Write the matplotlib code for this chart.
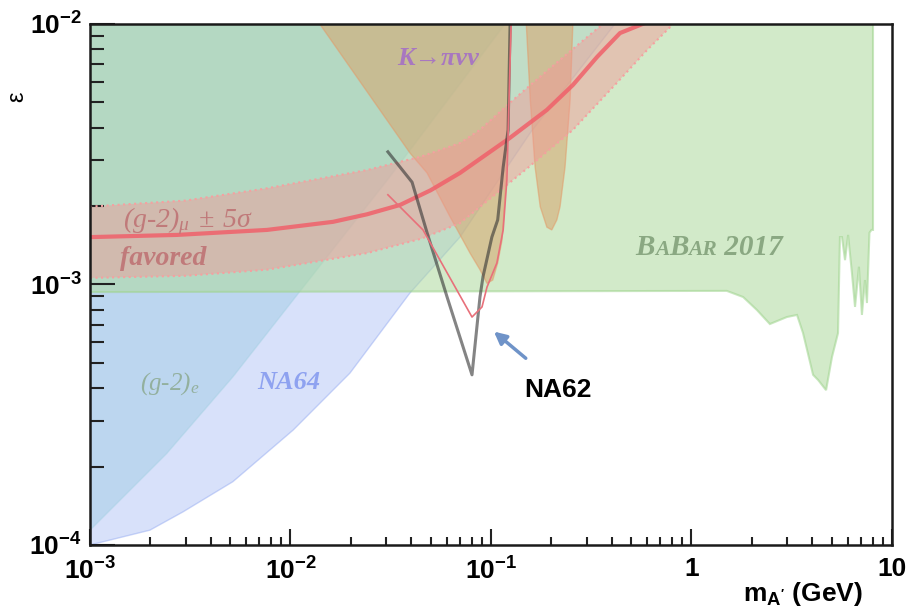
import matplotlib.pyplot as plt
import numpy as np

# ---- exclusion regions (m in GeV, eps) ----
babar_m = [1e-3, 1.50, 1.81, 2.12, 2.46, 2.99, 3.36, 3.60, 4.04, 4.28, 4.69, 5.02, 5.38,
           5.50, 5.63, 5.83, 6.04, 6.31, 6.54, 6.84, 7.08, 7.33, 7.50, 7.72, 7.90, 8.04, 8.04, 1e-3]
babar_eps = [9.35e-4, 9.45e-4, 8.95e-4, 7.98e-4, 7.05e-4, 7.50e-4, 7.64e-4, 6.51e-4, 4.50e-4,
             4.30e-4, 3.93e-4, 5.27e-4, 6.51e-4, 1.52e-3, 1.52e-3, 1.24e-3, 1.55e-3, 1.11e-3,
             8.20e-4, 1.17e-3, 7.64e-4, 1.04e-3, 8.49e-4, 1.58e-3, 1.62e-3, 1.62e-3, 1e-2, 1e-2]

na64_m = [1e-3, 1.99e-3, 2.91e-3, 5.16e-3, 1.03e-2, 1.98e-2, 3.94e-2, 7.0e-2, 0.157, 0.415, 1e-3]
na64_eps = [1.0e-4, 1.14e-4, 1.34e-4, 1.75e-4, 2.76e-4, 4.57e-4, 9.27e-4, 1.52e-3, 3.82e-3, 1e-2, 1e-2]

g2e_m = [1e-3, 2.42e-3, 5.16e-3, 1.03e-2, 3.13e-2, 0.1175, 1e-3]
g2e_eps = [1.14e-4, 2.25e-4, 4.42e-4, 8.71e-4, 2.59e-3, 1e-2, 1e-2]

kpinn_m = [1.40e-2, 3.94e-2, 4.80e-2, 6.25e-2, 7.86e-2, 8.81e-2, 9.55e-2, 0.102, 0.108,
           0.1135, 0.1175, 0.120, 0.126]
kpinn_eps = [1e-2, 3.20e-3, 2.68e-3, 1.82e-3, 1.32e-3, 1.14e-3, 1.01e-3, 1.04e-3, 1.21e-3,
             1.48e-3, 2.17e-3, 3.37e-3, 1e-2]

kpinn2_m = [0.150, 0.157, 0.166, 0.176, 0.190, 0.201, 0.213, 0.221, 0.234, 0.248, 0.256]
kpinn2_eps = [1e-2, 5.11e-3, 2.82e-3, 1.99e-3, 1.66e-3, 1.62e-3, 1.77e-3, 1.99e-3, 2.82e-3,
              5.11e-3, 1e-2]

# (g-2)_mu favoured band
gm2_m = [1e-3, 2.72e-3, 7.64e-3, 1.63e-2, 2.41e-2, 3.52e-2, 5.0e-2, 7.0e-2, 0.124, 0.190,
         0.256, 0.338, 0.440, 0.57]
gm2_eps = [1.52e-3, 1.55e-3, 1.62e-3, 1.74e-3, 1.86e-3, 2.02e-3, 2.30e-3, 2.68e-3, 3.65e-3,
           4.68e-3, 5.83e-3, 7.47e-3, 9.23e-3, 1.0e-2]
gm2_up_m = [1e-3, 3.0e-3, 7.64e-3, 2.41e-2, 4.5e-2, 7.0e-2, 8.8e-2, 0.129, 0.19, 0.278, 0.362]
gm2_up_eps = [1.99e-3, 2.10e-3, 2.34e-3, 2.75e-3, 3.10e-3, 3.49e-3, 3.92e-3, 5.11e-3,
              6.60e-3, 8.45e-3, 1e-2]
gm2_lo_m = [1e-3, 3.0e-3, 7.64e-3, 2.41e-2, 4.5e-2, 7.0e-2, 0.148, 0.256, 0.406, 0.600, 0.782, 0.81]
gm2_lo_eps = [1.06e-3, 1.08e-3, 1.14e-3, 1.32e-3, 1.50e-3, 1.72e-3, 2.75e-3, 3.92e-3, 5.73e-3,
              7.94e-3, 9.73e-3, 1e-2]

# NA62 projections
na62_m = [3.06e-2, 4.04e-2, 4.18e-2, 4.80e-2, 6.04e-2, 8.04e-2, 8.81e-2, 9.12e-2, 0.101,
          0.108, 0.115, 0.1217, 0.1245]
na62_eps = [3.23e-3, 2.47e-3, 2.26e-3, 1.58e-3, 8.95e-4, 4.50e-4, 8.95e-4, 1.07e-3, 1.52e-3,
            1.77e-3, 2.82e-3, 3.92e-3, 1e-2]
na62b_m = [3.06e-2, 4.58e-2, 8.04e-2, 9.02e-2, 9.55e-2, 0.107, 0.115, 0.120, 0.123, 0.126]
na62b_eps = [2.21e-3, 1.62e-3, 7.50e-4, 8.20e-4, 9.77e-4, 1.21e-3, 1.62e-3, 2.52e-3, 5.11e-3, 1e-2]

xticks = [1e-3, 1e-2, 1e-1, 1, 10]
xtick_labels = [r'$\mathdefault{10^{-3}}$', r'$\mathdefault{10^{-2}}$',
                r'$\mathdefault{10^{-1}}$', '1', '10']
yticks = [1e-4, 1e-3, 1e-2]
ytick_labels = [r'$\mathdefault{10^{-4}}$', r'$\mathdefault{10^{-3}}$', r'$\mathdefault{10^{-2}}$']

plt.rcParams['font.family'] = ['Liberation Sans', 'DejaVu Sans']

fig = plt.figure(figsize=(9.09, 6.12), dpi=100)
ax = fig.add_axes([0.099, 0.1095, 0.8823, 0.8513])
ax.set_xscale('log')
ax.set_yscale('log')

ax.fill(na64_m, na64_eps, facecolor='#aabef5', alpha=0.46, edgecolor='#8fa6f0', lw=1)
ax.fill(g2e_m, g2e_eps, facecolor='#96c8e1', alpha=0.42, edgecolor='#a0d0e0', lw=1)
ax.fill(babar_m, babar_eps, facecolor='#afdaa0', alpha=0.56, edgecolor='#9fd48e', lw=1.5)
ax.fill(kpinn_m, kpinn_eps, facecolor='#d7a56e', alpha=0.55, edgecolor='#e39a68', lw=1)
ax.fill(kpinn2_m, kpinn2_eps, facecolor='#d7a56e', alpha=0.55, edgecolor='#e39a68', lw=1)

# pink band between the upper and lower edges
ax.fill(gm2_up_m + [gm2_lo_m[-1]] + gm2_lo_m[::-1], gm2_up_eps + [1e-2] + gm2_lo_eps[::-1],
        facecolor='#f59696', alpha=0.45, edgecolor='none')
ax.plot(gm2_up_m, gm2_up_eps, color='#f5a0a0', lw=1.5, ls=':')
ax.plot(gm2_lo_m, gm2_lo_eps, color='#f5a0a0', lw=1.5, ls=':')
ax.plot(gm2_m, gm2_eps, color='#f0606a', lw=3, alpha=0.85)

ax.plot(na62_m, na62_eps, color='#333333', lw=2.2, alpha=0.6)
ax.plot(na62b_m, na62b_eps, color='#e8707a', lw=1.2)

ax.set_xlim(1e-3, 10)
ax.set_ylim(1e-4, 1e-2)

ax.set_xticks(xticks)
ax.set_xticklabels(xtick_labels)
ax.set_yticks(yticks)
ax.set_yticklabels(ytick_labels)
ax.tick_params(axis='both', which='both', direction='in', top=False, right=False,
               width=1.5, colors='#222222', labelcolor='black')
ax.tick_params(axis='x', which='major', length=11.5, pad=9, labelsize=19)
ax.tick_params(axis='x', which='minor', length=5.8)
ax.tick_params(axis='y', which='major', length=18, pad=6, labelsize=19)
ax.tick_params(axis='y', which='minor', length=10)
for lab in ax.get_xticklabels() + ax.get_yticklabels():
    lab.set_fontweight('bold')
for sp in ax.spines.values():
    sp.set_linewidth(1.8)
    sp.set_color('#1a1a1a')

# axis titles
fig.text(803 / 909, 1 - 594 / 612, r"$\mathdefault{m_{A'}}$ (GeV)", ha='center', va='center',
         fontsize=19, fontweight='bold')
fig.text(17 / 909, 1 - 97 / 612, 'ε', rotation=90, ha='center', va='center', fontsize=17)

serif = ['Liberation Serif', 'DejaVu Serif']
ax.text(0.383, 0.921, 'K→πνν', transform=ax.transAxes, family=serif, style='italic',
        fontweight='bold', fontsize=19, color='#a877c0')
ax.text(0.041, 0.610, r'$\mathdefault{(g‐2)_{μ}\ ±\ 5σ}$', transform=ax.transAxes, family=serif,
        style='italic', fontsize=20, color='#c07a7a')
ax.text(0.037, 0.537, 'favored', transform=ax.transAxes, family=serif, style='italic',
        fontweight='bold', fontsize=20, color='#c07a7a')
ax.text(0.062, 0.298, r'$\mathdefault{(g‐2)_{e}}$', transform=ax.transAxes, family=serif,
        style='italic', fontsize=18, color='#93b09e')
ax.text(0.209, 0.299, 'NA64', transform=ax.transAxes, family=serif, style='italic',
        fontweight='bold', fontsize=19, color='#8ea2f0')

# BaBar with small caps
prev = ax.text(0.680, 0.557, 'B', transform=ax.transAxes, family=serif, style='italic',
               fontweight='bold', fontsize=21, color='#8aa882')
for piece, size in [('A', 15.5), ('B', 21), ('AR', 15.5), (' 2017', 21)]:
    prev = ax.annotate(piece, xy=(1, 0.557), xycoords=(prev, ax.transAxes), va='baseline',
                       ha='left', family=serif, style='italic', fontweight='bold',
                       fontsize=size, color='#8aa882')

ax.text(0.542, 0.284, 'NA62', transform=ax.transAxes, fontsize=19, fontweight='bold',
        color='black')
ax.annotate('', xy=(0.501, 0.413), xytext=(0.546, 0.355), xycoords='axes fraction',
            textcoords='axes fraction',
            arrowprops=dict(arrowstyle='-|>', color='#6f93c8', lw=2.5, mutation_scale=18))

fig.savefig('out.png', dpi=100)
